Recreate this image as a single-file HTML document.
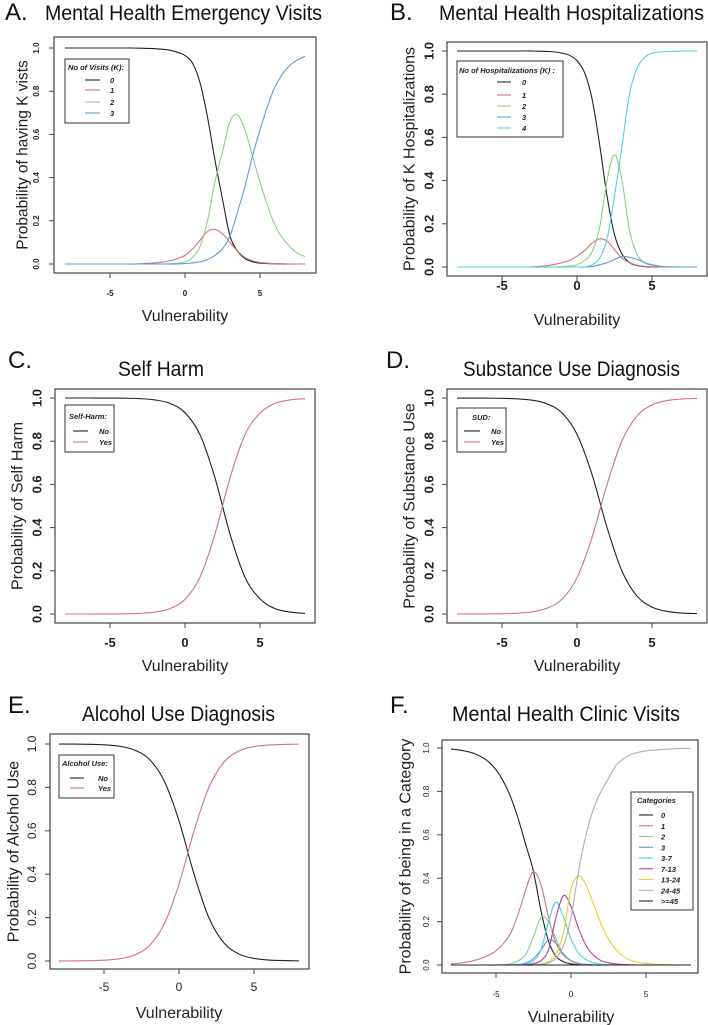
<!DOCTYPE html>
<html><head><meta charset="utf-8">
<style>
html,body{margin:0;padding:0;background:#fff;}
svg{display:block;font-family:"Liberation Sans",Arial,sans-serif;}
</style></head>
<body>
<svg id="fig" width="708" height="1025" viewBox="0 0 708 1025" xmlns="http://www.w3.org/2000/svg"></svg>
<script>
// ---------- shared x grids ----------
const xHalf = [-8,-7.5,-7,-6.5,-6,-5.5,-5,-4.5,-4,-3.5,-3,-2.5,-2,-1.5,-1,-0.5,0,0.5,1,1.5,2,2.5,3,3.5,4,4.5,5,5.5,6,6.5,7,7.5,8];
const xOne = [-8,-7,-6,-5,-4,-3,-2,-1,0,1,2,3,4,5,6,7,8];
const xTicks = [-5,0,5];
const yTicks = [0,0.2,0.4,0.6,0.8,1.0];
const yTickLabels = ["0.0","0.2","0.4","0.6","0.8","1.0"];
const xTickLabels = ["-5","0","5"];

// ---------- Panel A: emergency visits ----------
const aLabels = ["0","1","2","3"];
const aK0 = [1,1,1,1,1,1,1,1,1,1,.999,.998,.997,.994,.99,.98,.965,.93,.84,.68,.48,.3,.13,.06,.025,.01,.004,.002,.001,0,0,0,0];
const aK1 = [0,0,0,0,0,0,0,0,0,0,.001,.003,.005,.009,.015,.025,.04,.07,.11,.15,.16,.14,.1,.06,.03,.015,.007,.004,.002,.001,0,0,0];
const aK2 = [0,0,0,0,0,0,0,0,0,0,0,0,0,0,.001,.003,.01,.03,.08,.2,.38,.52,.66,.69,.62,.5,.38,.27,.18,.12,.08,.05,.035];
const aK3 = [0,0,0,0,0,0,0,0,0,0,0,0,0,0,0,0,.002,.005,.01,.02,.04,.07,.13,.24,.36,.5,.62,.73,.82,.88,.92,.945,.962];

// ---------- Panel B: hospitalizations ----------
const bLabels = ["0","1","2","3","4"];
const bK0 = [1,1,1,1,1,1,1,1,1,1,1,.999,.998,.996,.99,.98,.955,.9,.78,.57,.33,.15,.06,.02,.007,.002,0,0,0,0,0,0,0];
const bK1 = [0,0,0,0,0,0,0,0,0,0,.001,.003,.006,.012,.02,.03,.05,.075,.11,.13,.12,.08,.04,.02,.008,.003,.001,0,0,0,0,0,0];
const bK2 = [0,0,0,0,0,0,0,0,0,0,0,0,0,0,.002,.005,.01,.03,.07,.18,.4,.52,.4,.17,.06,.02,.008,.004,.002,.001,0,0,0];
const bK3 = [0,0,0,0,0,0,0,0,0,0,0,0,0,0,0,0,0,0,.002,.01,.02,.035,.048,.045,.035,.02,.01,.004,.001,0,0,0,0];
const bK4 = [0,0,0,0,0,0,0,0,0,0,0,0,0,0,0,0,0,0,.01,.04,.13,.33,.56,.8,.92,.97,.99,.995,.998,.999,1,1,1];

// ---------- Panel C: self harm ----------
const cLabels = ["No","Yes"];
const cNo  = [1,1,.9999,.9996,.999,.997,.991,.975,.932,.83,.63,.37,.17,.07,.025,.009,.003];
const cYes = [0,0,.0001,.0004,.001,.003,.009,.025,.068,.17,.37,.63,.83,.93,.975,.991,.997];

// ---------- Panel D: substance use ----------
const dLabels = ["No","Yes"];
const dNo  = [.9999,.9998,.9995,.9986,.996,.99,.973,.931,.832,.646,.401,.198,.083,.032,.012,.0045,.002];
const dYes = [.0001,.0002,.0005,.0014,.004,.01,.027,.069,.168,.354,.599,.802,.917,.968,.988,.9955,.998];

// ---------- Panel E: alcohol use ----------
const eLabels = ["No","Yes"];
const eNo  = [.9998,.9995,.9986,.9963,.99,.973,.931,.832,.646,.401,.198,.083,.032,.012,.0045,.002,.0006];
const eYes = [.0002,.0005,.0014,.0037,.01,.027,.069,.168,.354,.599,.802,.917,.968,.988,.9955,.998,.9994];

// ---------- Panel F: clinic visits ----------
const fLabels = ["0","1","2","3","3-7","7-13","13-24","24-45",">=45"];
const fC0 = [.995,.991,.985,.976,.96,.937,.9,.845,.77,.67,.55,.43,.25,.11,.04,.015,.005,.002,0,0,0,0,0,0,0,0,0,0,0,0,0,0,0];
const fC1 = [.005,.008,.013,.02,.03,.045,.065,.1,.15,.24,.35,.43,.37,.22,.1,.045,.02,.008,.003,.001,0,0,0,0,0,0,0,0,0,0,0,0,0];
const fC2 = [0,0,0,0,0,0,0,.002,.006,.02,.05,.13,.22,.2,.12,.05,.02,.007,.002,0,0,0,0,0,0,0,0,0,0,0,0,0,0];
const fC3 = [0,0,0,0,0,0,0,0,0,.003,.01,.03,.07,.115,.1,.05,.02,.007,.002,0,0,0,0,0,0,0,0,0,0,0,0,0,0];
const fC4 = [0,0,0,0,0,0,0,0,0,.002,.006,.02,.07,.2,.29,.22,.12,.055,.025,.01,.004,.002,.001,0,0,0,0,0,0,0,0,0,0];
const fC5 = [0,0,0,0,0,0,0,0,0,0,.002,.006,.02,.07,.22,.32,.27,.17,.09,.045,.02,.01,.005,.002,.001,0,0,0,0,0,0,0,0];
const fC6 = [0,0,0,0,0,0,0,0,0,0,0,0,.005,.015,.05,.15,.35,.41,.37,.28,.19,.12,.07,.04,.022,.012,.007,.004,.002,.001,0,0,0];
const fC7 = [0,0,0,0,0,0,0,0,0,0,0,0,.002,.01,.03,.09,.22,.43,.6,.72,.8,.86,.92,.95,.97,.98,.987,.99,.993,.995,.997,.998,.998];
const fC8 = [0,0,0,0,0,0,0,0,0,0,0,0,0,0,0,0,0,0,0,0,0,0,0,0,0,0,0,0,0,0,0,0,0];

const NS = "http://www.w3.org/2000/svg";
const svg = document.getElementById("fig");
function mk(tag, attrs, parent){
  const e = document.createElementNS(NS, tag);
  for (const k in attrs) e.setAttribute(k, attrs[k]);
  (parent||svg).appendChild(e);
  return e;
}
function smoothPath(pts){
  let d = "M"+pts[0][0].toFixed(2)+","+pts[0][1].toFixed(2);
  for (let i=0;i<pts.length-1;i++){
    const p0=pts[i-1]||pts[i], p1=pts[i], p2=pts[i+1], p3=pts[i+2]||p2;
    const c1=[p1[0]+(p2[0]-p0[0])/6, p1[1]+(p2[1]-p0[1])/6];
    const c2=[p2[0]-(p3[0]-p1[0])/6, p2[1]-(p3[1]-p1[1])/6];
    d+=" C"+c1[0].toFixed(2)+","+c1[1].toFixed(2)+" "+c2[0].toFixed(2)+","+c2[1].toFixed(2)+" "+p2[0].toFixed(2)+","+p2[1].toFixed(2);
  }
  return d;
}

const panels = [
 {id:"a", letter:"A.", lx:5, ly:20, title:"Mental Health Emergency Visits", tx:45, ty:20, tw:277,
  box:[54,37,316,273], x0:185, x5:260, y0:264, y1:48, tickFs:8, tickBold:true, tyX:36, txY:296,
  ylab:"Probability of having K vists", ylx:22, ylFs:15.5, xlabY:321,
  xs:xHalf, series:[aK0,aK1,aK2,aK3], labels:aLabels, colors:["#222","#d4707f","#8fce8a","#5d9fd3"],
  leg:{box:[65,59,129,123], title:"No of Visits (K):", titleX:68, titleY:70, l1:85, l2:100, lab:110, rows:[80,90,102,113]}},
 {id:"b", letter:"B.", lx:390, ly:20, title:"Mental Health Hospitalizations", tx:439, ty:20, tw:265,
  box:[447,42,707,276], x0:577, x5:652, y0:267, y1:51, tickFs:13, tickBold:true, tyX:429, txY:290,
  ylab:"Probability of K Hospitalizations", ylx:409, ylFs:16, xlabY:325,
  xs:xHalf, series:[bK0,bK1,bK2,bK3,bK4], labels:bLabels, colors:["#222","#d4707f","#8fce8a","#5d9fd3","#4fd3da"],
  leg:{box:[457,61,563,137], title:"No of Hospitalizations (K) :", titleX:459, titleY:73, l1:497, l2:511, lab:522, rows:[82,95,106,117,128]}},
 {id:"c", letter:"C.", lx:8, ly:368, title:"Self Harm", tx:118, ty:376, tw:86,
  box:[55,389,315,623], x0:185, x5:260, y0:614, y1:398, tickFs:13, tickBold:true, tyX:37, txY:647,
  ylab:"Probability of Self Harm", ylx:17, ylFs:16, xlabY:671,
  xs:xOne, series:[cNo,cYes], labels:cLabels, colors:["#222","#d4707f"],
  leg:{box:[65,405,114,452], title:"Self-Harm:", titleX:69, titleY:419, l1:73, l2:88, lab:99, rows:[431,442]}},
 {id:"d", letter:"D.", lx:386, ly:368, title:"Substance Use Diagnosis", tx:463, ty:376, tw:217,
  box:[447,389,707,623], x0:577, x5:652, y0:614, y1:398, tickFs:13, tickBold:true, tyX:429, txY:647,
  ylab:"Probability of Substance Use", ylx:409, ylFs:16, xlabY:671,
  xs:xOne, series:[dNo,dYes], labels:dLabels, colors:["#222","#d4707f"],
  leg:{box:[457,408,506,452], title:"SUD:", titleX:472, titleY:420, l1:464, l2:480, lab:491, rows:[431,442]}},
 {id:"e", letter:"E.", lx:8, ly:713, title:"Alcohol Use Diagnosis", tx:82, ty:721, tw:193,
  box:[50,734,309,969], x0:179, x5:254, y0:961, y1:744, tickFs:12, tickBold:false, tyX:32, txY:991,
  ylab:"Probability of Alcohol Use", ylx:13, ylFs:16, xlabY:1018,
  xs:xOne, series:[eNo,eYes], labels:eLabels, colors:["#222","#d4707f"],
  leg:{box:[59,755,114,798], title:"Alcohol Use:", titleX:62, titleY:766, l1:70, l2:84, lab:98, rows:[778,788]}},
 {id:"f", letter:"F.", lx:390, ly:713, title:"Mental Health Clinic Visits", tx:452, ty:721, tw:228,
  box:[442,740,698,973], x0:571, x5:646, y0:965, y1:748, tickFs:8, tickBold:false, tyX:426, txY:997,
  ylab:"Probability of being in a Category", ylx:405, ylFs:16, xlabY:1022,
  xs:xHalf, series:[fC0,fC1,fC2,fC3,fC4,fC5,fC6,fC7,fC8], labels:fLabels,
  colors:["#222","#d4707f","#8fce8a","#5d9fd3","#45d3da","#b040b0","#e6d02e","#b0b0b0","#222"],
  leg:{box:[631,792,693,910], title:"Categories", titleX:637, titleY:803, l1:639, l2:653, lab:661, rows:[815,825.8,836.5,847.3,858,868.8,879.5,890.3,901]}}
];

panels.forEach(p=>{
  const g = mk("g",{});
  
  
  const xs = v => p.x0 + (p.x5-p.x0)*v/5;
  const ys = v => p.y0 + (p.y1-p.y0)*v;

  const L = mk("text",{x:p.lx,y:p.ly,"font-size":24,fill:"#111"},g);
  L.textContent = p.letter;
  
  
  const T = mk("text",{x:p.tx,y:p.ty,"font-size":21,fill:"#111",textLength:p.tw,lengthAdjust:"spacingAndGlyphs"},g);
  T.textContent = p.title;
  
  

  const [bx1,by1,bx2,by2] = p.box;
  const B = mk("rect",{x:bx1,y:by1,width:bx2-bx1,height:by2-by1,fill:"none",stroke:"#444","stroke-width":1.2},g);
  
  

  yTicks.forEach((v,i)=>{
    const y = ys(v);
    const tk = mk("line",{x1:bx1-5,x2:bx1,y1:y,y2:y,stroke:"#444","stroke-width":1},g);
    
    
    const t = mk("text",{x:0,y:0,"font-size":p.tickFs,"font-weight":p.tickBold?"bold":"normal","text-anchor":"middle",fill:"#222",
      transform:"translate("+(p.tyX+p.tickFs*0.35)+","+y+") rotate(-90)"},g);
    t.textContent = yTickLabels[i];
    
    
  });
  xTicks.forEach((v,i)=>{
    const x = xs(v);
    const tk = mk("line",{x1:x,x2:x,y1:by2,y2:by2+5,stroke:"#444","stroke-width":1},g);
    
    
    const t = mk("text",{x:x,y:p.txY,"font-size":p.tickFs,"font-weight":p.tickBold?"bold":"normal","text-anchor":"middle",fill:"#222"},g);
    t.textContent = xTickLabels[i];
    
    
  });
  const YL = mk("text",{x:0,y:0,"font-size":p.ylFs,"text-anchor":"middle",fill:"#222",
    transform:"translate("+(p.ylx+p.ylFs*0.35)+","+((by1+by2)/2)+") rotate(-90)"},g);
  YL.textContent = p.ylab;
  
  
  const XL = mk("text",{x:(p.x0),y:p.xlabY,"font-size":16,"text-anchor":"middle",fill:"#222"},g);
  XL.textContent = "Vulnerability";
  
  

  p.series.forEach((vals,si)=>{
    const pts = vals.map((v,i)=>[xs(p.xs[i]), ys(v)]);
    const path = mk("path",{d:smoothPath(pts),fill:"none",stroke:p.colors[si],"stroke-width":1.1},g);
    
    
  });

  const lg = p.leg;
  const LG = mk("g",{},g);
  
  
  const [lx1,ly1,lx2,ly2] = lg.box;
  mk("rect",{x:lx1,y:ly1,width:lx2-lx1,height:ly2-ly1,fill:"#fff",stroke:"#333","stroke-width":1},LG);
  const lt = mk("text",{x:lg.titleX,y:lg.titleY,"font-size":7.5,"font-weight":"bold","font-style":"italic",fill:"#222"},LG);
  lt.textContent = lg.title;
  
  
  p.labels.forEach((lab,si)=>{
    const y = lg.rows[si];
    const ln = mk("line",{x1:lg.l1,x2:lg.l2,y1:y,y2:y,stroke:p.colors[si],"stroke-width":1.1},LG);
    
    
    const tt = mk("text",{x:lg.lab,y:y+3,"font-size":7.5,"font-weight":"bold","font-style":"italic",fill:"#222"},LG);
    tt.textContent = lab;
    
    
  });
});
</script>
</body></html>
